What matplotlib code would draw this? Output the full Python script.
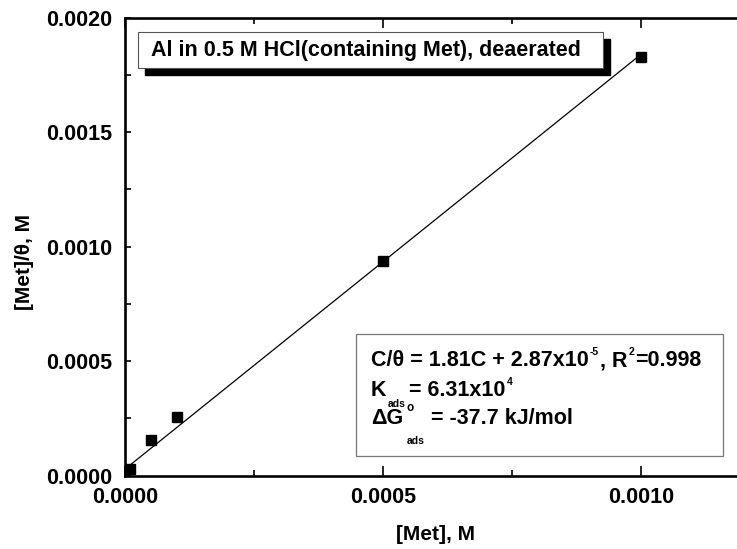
import matplotlib
matplotlib.use("Agg")
import matplotlib.pyplot as plt
from matplotlib.patches import Rectangle
from matplotlib.ticker import MultipleLocator, FormatStrFormatter

plt.rcParams['font.family'] = ['Liberation Sans', 'DejaVu Sans']
plt.rcParams['font.weight'] = 'bold'

# data
met_conc = [0.00001, 0.00005, 0.0001, 0.0005, 0.001]
met_over_theta = [0.000029, 0.000156, 0.000255, 0.000938, 0.001829]
slope = 1.81
intercept = 2.87e-5
fit_x = [0.00001, 0.001]

x_ticks = [0.0, 0.0005, 0.0010]
y_ticks = [0.0, 0.0005, 0.0010, 0.0015, 0.0020]

W, H = 737, 549
fig = plt.figure(figsize=(W / 100, H / 100), dpi=100)
renderer = fig.canvas.get_renderer()

def fx(px):
    return px / W

def fy(py):
    return 1 - py / H

left, right, top, bottom = 125, 744, 17.5, 475.7
ax = fig.add_axes([fx(left), fy(bottom), (right - left) / W, (bottom - top) / H])

ax.plot(met_conc, met_over_theta, 'ks', markersize=7.8, zorder=3, clip_on=False)
fit_y = [slope * v + intercept for v in fit_x]
ax.plot(fit_x, fit_y, color='black', lw=0.9, zorder=2)

ax.set_xlim(0, 0.0012)
ax.set_ylim(0, 0.0020)
ax.set_xticks(x_ticks)
ax.set_yticks(y_ticks)
ax.xaxis.set_minor_locator(MultipleLocator(0.00025))
ax.yaxis.set_minor_locator(MultipleLocator(0.00025))
ax.xaxis.set_major_formatter(FormatStrFormatter('%.4f'))
ax.yaxis.set_major_formatter(FormatStrFormatter('%.4f'))
ax.tick_params(which='both', direction='in', top=True, right=True, width=1.2)
ax.tick_params(axis='x', which='major', length=7, pad=8, labelsize=15.5)
ax.tick_params(axis='x', which='minor', length=4)
ax.tick_params(axis='y', which='major', length=4, pad=9, labelsize=15.5)
ax.tick_params(axis='y', which='minor', length=4)
for lab in ax.get_xticklabels() + ax.get_yticklabels():
    lab.set_fontweight('bold')
for s in ax.spines.values():
    s.set_linewidth(1.9)

# axis labels
fig.text(fx(435), fy(534), '[Met], M', ha='center', va='center', fontsize=15, fontweight='bold')
fig.text(fx(25), fy(262), '[Met]/\u03b8, M', ha='center', va='center', rotation=90,
         fontsize=15, fontweight='bold')

# title box with shadow
bx0, by0, bx1, by1 = 138, 31.5, 603, 67.5
fig.patches.append(Rectangle((fx(bx0 + 7), fy(by1 + 7)), (bx1 - bx0) / W, (by1 - by0) / H,
                             transform=fig.transFigure, facecolor='black', edgecolor='black',
                             zorder=5))
fig.patches.append(Rectangle((fx(bx0), fy(by1)), (bx1 - bx0) / W, (by1 - by0) / H,
                             transform=fig.transFigure, facecolor='white', edgecolor='#555555',
                             lw=0.8, zorder=6))
fig.text(fx(366), fy((by0 + by1) / 2 + 1), 'Al in 0.5 M HCl(containing Met), deaerated',
         ha='center', va='center', fontsize=15.5, fontweight='bold', zorder=7)

# equation box
ex0, ey0, ex1, ey1 = 356, 334, 723, 456
fig.patches.append(Rectangle((fx(ex0), fy(ey1)), (ex1 - ex0) / W, (ey1 - ey0) / H,
                             transform=fig.transFigure, facecolor='white', edgecolor='#777777',
                             lw=0.9, zorder=5))

MAIN = 15.5
SMALL = 7.5


def put(x, base, txt, size):
    t = fig.text(fx(x), fy(base), txt, ha='left', va='baseline', fontsize=size,
                 fontweight='bold', zorder=7)
    return t.get_window_extent(renderer).width


def line(x, base, pieces):
    # pieces: (text, size, dy_px (positive = down), dx_before, gap_after, advance)
    for txt, size, dy, dxb, gap, adv in pieces:
        w = put(x + dxb, base + dy, txt, size)
        if adv:
            x += dxb + w + gap


tx = 371
line(tx, 366, [
    ('C/\u03b8 = 1.81C + 2.87x10', MAIN, 0, 0, 1, True),
    ('-5', SMALL, -11, 0, 1, True),
    (', R', MAIN, 0, 0, 1, True),
    ('2', SMALL, -11, 0, 1, True),
    ('=0.998', MAIN, 0, 0, 0, True),
])
line(tx, 396, [
    ('K', MAIN, 0, 0, 1, True),
    ('ads', SMALL, 11, 0, 4, True),
    ('= 6.31x10', MAIN, 0, 0, 1, True),
    ('4', SMALL, -11, 0, 0, True),
])
line(tx, 424, [
    ('\u0394G', MAIN, 0, 0, 0, True),
    ('o', 8.5, -13, 3, 0, False),
    ('ads', SMALL, 20, 4, 6, True),
    ('= -37.7 kJ/mol', MAIN, 0, 0, 0, True),
])

fig.savefig('out.png', dpi=100)
